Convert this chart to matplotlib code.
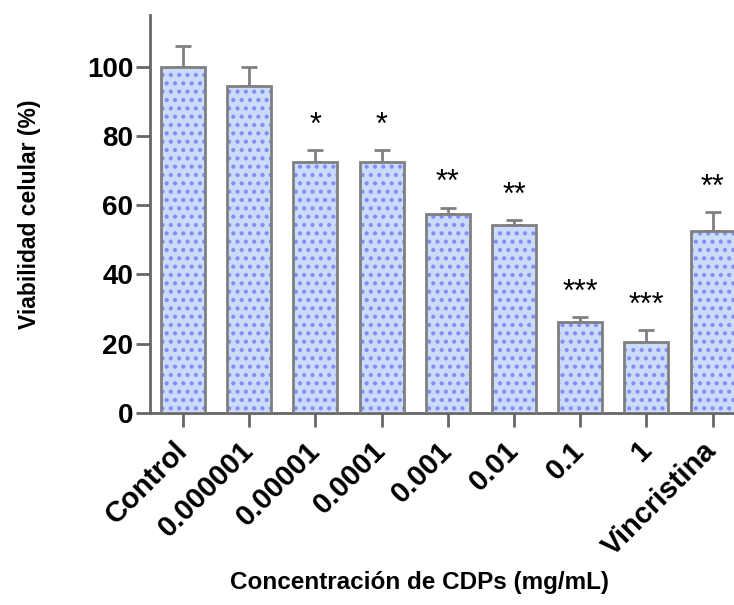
import matplotlib
matplotlib.use("Agg")
import matplotlib.pyplot as plt
import numpy as np

categories = ["Control", "0.000001", "0.00001", "0.0001", "0.001", "0.01", "0.1", "1", "Vincristina"]
values = [100, 94.3, 72.5, 72.6, 57.5, 54.3, 26.4, 20.5, 52.5]
errors = [6.0, 5.7, 3.5, 3.3, 1.8, 1.4, 1.3, 3.5, 5.5]
stars = ["", "", "*", "*", "**", "**", "***", "***", "**"]
yticks = [0, 20, 40, 60, 80, 100]

plt.rcParams['font.family'] = ['Liberation Sans', 'DejaVu Sans']
plt.rcParams['hatch.linewidth'] = 1.8

fig = plt.figure(figsize=(7.34, 6.05), dpi=100)
ax = fig.add_axes([150/734, 1-413/605, 1-150/734, (413-15)/605])

x = np.arange(len(categories))
w = 0.665
gray = '#808080'
ax.bar(x, values, width=w, color='#c9dcfa', edgecolor='#8a8af5', linewidth=0, hatch='..', zorder=2)
ax.bar(x, values, width=w, color='none', edgecolor=gray, linewidth=2, zorder=3)
ax.errorbar(x, values, yerr=[np.zeros(len(errors)), errors], fmt='none', ecolor=gray,
            elinewidth=2, capsize=6, capthick=2, zorder=1)

for xi, v, e, s in zip(x, values, errors, stars):
    if s:
        ax.text(xi, v + e + 7.0, s, ha='center', va='center', fontsize=22, color='black')

ax.set_xlim(-0.5, (734-183)/66.2)
ax.set_ylim(0, (413-15)/3.463)
ax.set_yticks(yticks)
ax.set_yticklabels([str(t) for t in yticks], fontsize=20, fontweight='bold')
ax.set_xticks(x)
ax.set_xticklabels(categories, rotation=45, ha='right', va='center', rotation_mode='anchor',
                   fontsize=21, fontweight='bold')

for side in ['top', 'right']:
    ax.spines[side].set_visible(False)
for side in ['left', 'bottom']:
    ax.spines[side].set_color('#666666')
    ax.spines[side].set_linewidth(2)
ax.tick_params(axis='both', colors='#666666', width=2, length=10, labelcolor='black')
ax.tick_params(axis='y', pad=2)
ax.tick_params(axis='x', pad=14)

ax.set_ylabel("Viabilidad celular (%)", fontsize=16.5, fontweight='bold')
ax.set_xlabel("Concentración de CDPs (mg/mL)", fontsize=17.5, fontweight='bold')
ax.yaxis.set_label_coords(-(150-30)/584, 0.5)
ax.xaxis.set_label_coords((420-150)/584, -(583-413)/398)
ax.xaxis.label.set_va('center')
ax.yaxis.label.set_va('center')

fig.savefig("out.png", dpi=100)
